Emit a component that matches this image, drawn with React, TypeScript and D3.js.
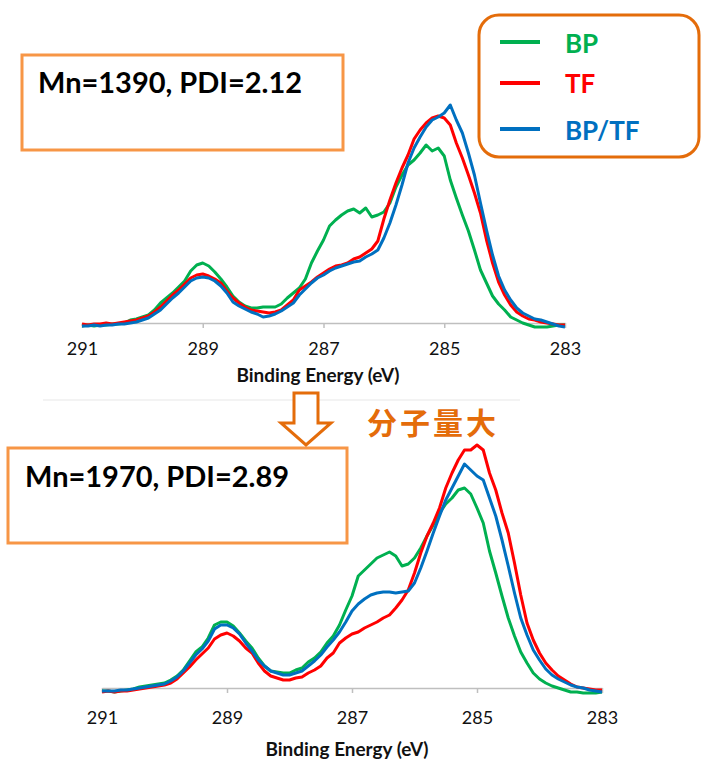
import React, { useRef, useEffect } from 'react';
import * as d3 from 'd3';

const WIDTH = 701;
const HEIGHT = 762;
const FONT = "Lato, 'Noto Sans', sans-serif";
const CJK_FONT = "'Noto Sans CJK SC', sans-serif";

// binding energy sampling: 291 -> 283 eV, 0.1 eV per point
const energyStart = 291;
const energyEnd = 283;
const energyStep = 0.1;
const tickEnergies = [291, 289, 287, 285, 283];

const seriesNames = ['BP', 'TF', 'BP/TF'];
const seriesColors = ['#00b050', '#ff0000', '#0070c0'];

// upper panel (Mn=1390, PDI=2.12), intensity a.u.
const topBP = [
  -3, -2, -3, -2, -2, -1, -1, 0,
  3, 4, 6, 8, 13, 20, 25, 30, 36, 42, 52, 58, 60,
  57, 51, 44, 36, 27, 21, 17, 15, 15, 16,
  16, 16, 19, 25, 30, 35, 44, 60, 72, 83,
  97, 103, 108, 112, 114, 110, 115, 106, 108, 111,
  120, 136, 148, 158, 163, 170, 178, 172, 175, 167,
  143, 125, 108, 92, 73, 53, 40, 27, 19, 13,
  6, 3, 0, -2, -4, -4, -4, -3, -2, -2,
];
const topTF = [
  -1, -2, -1, -1, 0, -1, 0, 1,
  2, 3, 5, 7, 11, 16, 22, 28, 33, 39, 45, 48, 49,
  47, 44, 40, 32, 25, 20, 16, 13, 12, 11,
  10, 11, 13, 18, 23, 33, 37, 41, 46, 50,
  54, 57, 58, 60, 64, 66, 70, 74, 82, 104,
  123, 140, 155, 168, 184, 193, 200, 205, 207, 205,
  198, 180, 165, 148, 130, 110, 83, 60, 41, 28,
  18, 11, 7, 4, 3, 1, 0, -1, -2, -2,
];
const topBPTF = [
  -3, -3, -2, -3, -2, -2, -1, -1,
  0, 1, 3, 5, 9, 13, 19, 25, 30, 36, 42, 45, 46,
  45, 42, 37, 30, 21, 17, 14, 11, 9, 6,
  7, 9, 12, 16, 20, 28, 34, 40, 45, 48,
  52, 55, 57, 59, 61, 62, 66, 69, 73, 85,
  100, 118, 138, 160, 175, 186, 196, 203, 206, 210,
  218, 203, 190, 170, 148, 120, 93, 68, 47, 33,
  23, 15, 10, 7, 4, 3, 1, -1, -3, -4,
];

// lower panel (Mn=1970, PDI=2.89)
const botBP = [
  -3, -3, -4, -3, -2, -1, 1, 2,
  3, 4, 5, 8, 12, 18, 27, 36, 41, 50, 63, 66, 66,
  62, 55, 47, 40, 30, 22, 17, 16, 15, 15,
  18, 20, 26, 30, 36, 45, 52, 63, 78, 92,
  112, 118, 124, 130, 133, 136, 132, 122, 124, 130,
  140, 152, 163, 175, 184, 190, 198, 200, 194, 180,
  165, 137, 115, 92, 70, 52, 36, 25, 15, 9,
  5, 2, 0, -2, -4, -4, -5, -5, -5, -4,
];
const botTF = [
  -4, -3, -4, -3, -3, -2, -1, 0,
  1, 2, 3, 5, 9, 15, 21, 28, 34, 40, 49, 53, 55,
  52, 47, 40, 35, 25, 17, 12, 10, 8, 8,
  10, 11, 15, 18, 22, 30, 35, 45, 50, 54,
  56, 60, 63, 66, 70, 73, 80, 88, 98, 115,
  135, 152, 165, 180, 200, 215, 228, 238, 238, 243,
  238, 215, 198, 175, 155, 125, 93, 65, 48, 35,
  25, 18, 12, 8, 4, 1, 0, -1, -2, -2,
];
const botBPTF = [
  -3, -3, -3, -2, -2, -1, 0, 1,
  2, 3, 4, 7, 11, 17, 25, 33, 39, 47, 59, 63, 63,
  60, 54, 45, 37, 28, 22, 17, 15, 13, 13,
  15, 17, 22, 27, 33, 41, 48, 56, 66, 77,
  84, 89, 93, 95, 96, 96, 95, 96, 97, 105,
  120, 137, 155, 172, 188, 200, 212, 224, 218, 212,
  208, 190, 172, 148, 122, 95, 70, 53, 38, 28,
  19, 13, 9, 6, 3, 1, 0, -2, -3, -4,
];

const panels = [
  {
    left: 82, right: 565, base: 323, tickPad: 14, titleX: 318, titleY: 382,
    series: [topBP, topTF, topBPTF],
  },
  {
    left: 102, right: 602, base: 688, tickPad: 18, titleX: 347, titleY: 756,
    series: [botBP, botTF, botBPTF],
  },
];

const App = () => {
  const svgRef = useRef<SVGSVGElement>(null);

  useEffect(() => {
    const svg = d3.select(svgRef.current);
    svg.selectAll('*').remove();

    const energies = d3.range(0, topBP.length).map(i => energyStart - i * energyStep);

    // faint separator left over above the lower panel
    svg.append('line')
      .attr('x1', 43).attr('x2', 520).attr('y1', 400).attr('y2', 400)
      .attr('stroke', '#efefef').attr('stroke-width', 1.5);

    panels.forEach(p => {
      const x = d3.scaleLinear().domain([energyStart, energyEnd]).range([p.left, p.right]);
      const y = d3.scaleLinear().domain([0, 250]).range([p.base, p.base - 250]);

      const axis = d3.axisBottom(x)
        .tickValues(tickEnergies)
        .tickSize(5)
        .tickSizeOuter(0)
        .tickPadding(p.tickPad)
        .tickFormat(d3.format('d'));

      const g = svg.append('g').attr('transform', `translate(0,${p.base})`).call(axis);
      g.select('.domain').attr('stroke', '#bfbfbf').attr('stroke-width', 1.5);
      g.selectAll('.tick line').attr('stroke', '#bfbfbf').attr('stroke-width', 1.5);
      g.selectAll('.tick text')
        .attr('font-family', FONT)
        .attr('font-size', 18)
        .attr('fill', '#111');

      const line = d3.line<number>()
        .x((d, i) => x(energies[i]))
        .y(d => y(d));

      p.series.forEach((s, k) => {
        svg.append('path')
          .attr('d', line(s))
          .attr('fill', 'none')
          .attr('stroke', seriesColors[k])
          .attr('stroke-width', 3)
          .attr('stroke-linejoin', 'round');
      });

      svg.append('text')
        .attr('x', p.titleX)
        .attr('y', p.titleY)
        .attr('text-anchor', 'middle')
        .attr('font-family', FONT)
        .attr('font-weight', 'bold')
        .attr('font-size', 18)
        .attr('textLength', 163)
        .attr('lengthAdjust', 'spacingAndGlyphs')
        .attr('fill', '#111')
        .text('Binding Energy (eV)');
    });

    // Mn / PDI boxes
    const boxes = [
      { x: 22, y: 55, w: 321, h: 95, label: 'Mn=1390, PDI=2.12', tx: 38, ty: 93 },
      { x: 8, y: 448, w: 339, h: 95, label: 'Mn=1970, PDI=2.89', tx: 25, ty: 487 },
    ];
    boxes.forEach(b => {
      svg.append('rect')
        .attr('x', b.x).attr('y', b.y).attr('width', b.w).attr('height', b.h)
        .attr('fill', '#fff').attr('stroke', '#f79646').attr('stroke-width', 3);
      svg.append('text')
        .attr('x', b.tx).attr('y', b.ty)
        .attr('font-family', FONT).attr('font-weight', 'bold').attr('font-size', 28)
        .attr('textLength', 264).attr('lengthAdjust', 'spacingAndGlyphs')
        .attr('fill', '#000')
        .text(b.label);
    });

    // hollow down arrow
    const arrow = d3.path();
    arrow.moveTo(294, 393);
    arrow.lineTo(318, 393);
    arrow.lineTo(318, 423);
    arrow.lineTo(331, 423);
    arrow.lineTo(306, 445);
    arrow.lineTo(281, 423);
    arrow.lineTo(294, 423);
    arrow.closePath();
    svg.append('path')
      .attr('d', arrow.toString())
      .attr('fill', '#fff')
      .attr('stroke', '#e46c0a')
      .attr('stroke-width', 3)
      .attr('stroke-linejoin', 'miter');

    svg.append('text')
      .attr('x', 367).attr('y', 434)
      .attr('font-family', CJK_FONT).attr('font-weight', 'bold').attr('font-size', 30)
      .attr('letter-spacing', 3)
      .attr('fill', '#e46c0a')
      .text('分子量大');

    // legend
    svg.append('rect')
      .attr('x', 479).attr('y', 15).attr('width', 220).attr('height', 142)
      .attr('rx', 20).attr('ry', 20)
      .attr('fill', '#fff').attr('stroke', '#e46c0a').attr('stroke-width', 3);

    const legendY = [42, 83, 129];
    const legendTextY = [53, 93, 140];
    seriesNames.forEach((name, k) => {
      svg.append('line')
        .attr('x1', 500).attr('x2', 540)
        .attr('y1', legendY[k]).attr('y2', legendY[k])
        .attr('stroke', seriesColors[k]).attr('stroke-width', 4);
      svg.append('text')
        .attr('x', 565).attr('y', legendTextY[k])
        .attr('font-family', FONT).attr('font-weight', 'bold').attr('font-size', 26)
        .attr('fill', seriesColors[k])
        .text(name);
    });
  }, []);

  return (
    <svg
      ref={svgRef}
      width={WIDTH}
      height={HEIGHT}
      style={{ position: 'absolute', left: 0, top: 0, background: '#fff' }}
    />
  );
};

export default App;
